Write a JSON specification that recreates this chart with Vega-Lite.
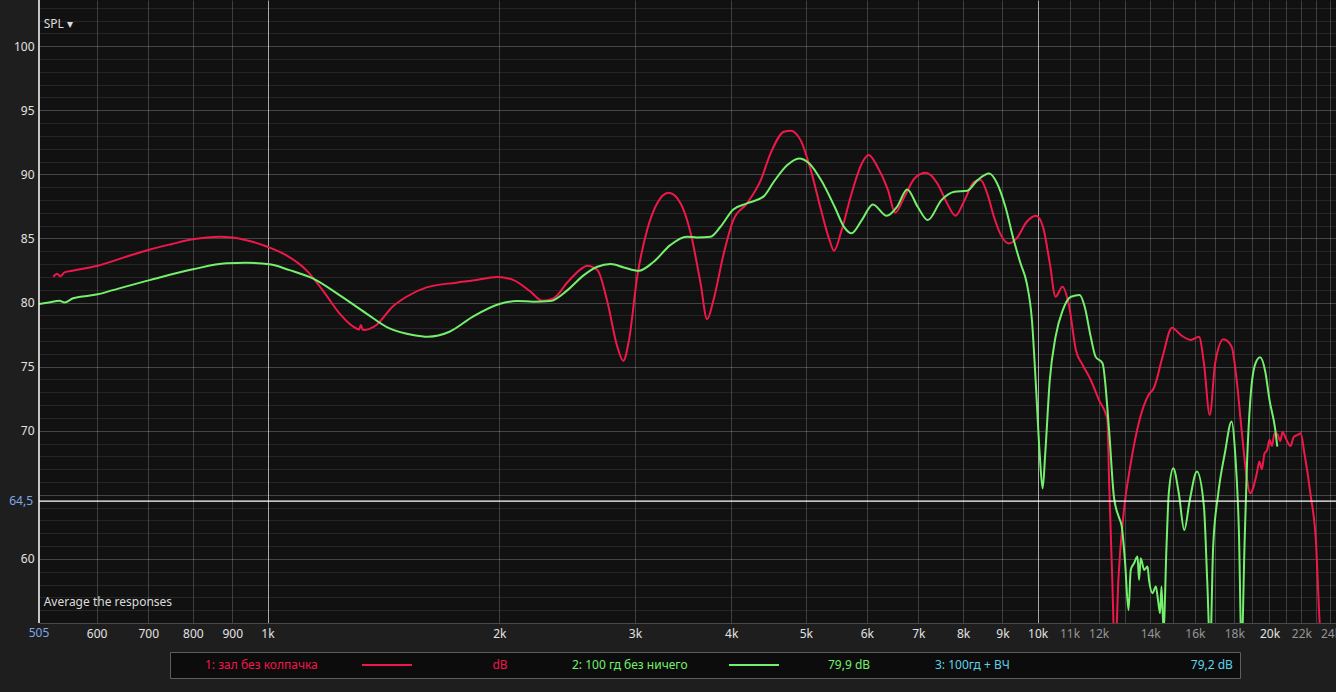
{
  "$schema": "https://vega.github.io/schema/vega-lite/v6.json",
  "width": 1297,
  "height": 623,
  "autosize": {"type": "none"},
  "padding": {"left": 39, "top": 0, "right": 0, "bottom": 69},
  "background": "#1e1e1e",
  "config": {"view": {"fill": "#111111", "stroke": null}, "font": "Noto Sans"},
  "resolve": {"axis": {"x": "independent", "y": "independent"}},
  "datasets": {
    "curves": [
      {"s": "1: зал без колпачка", "f": 527, "db": 82.0},
      {"s": "1: зал без колпачка", "f": 533, "db": 82.25},
      {"s": "1: зал без колпачка", "f": 538, "db": 82.05},
      {"s": "1: зал без колпачка", "f": 545, "db": 82.35},
      {"s": "1: зал без колпачка", "f": 560, "db": 82.5},
      {"s": "1: зал без колпачка", "f": 600, "db": 82.85},
      {"s": "1: зал без колпачка", "f": 650, "db": 83.5},
      {"s": "1: зал без колпачка", "f": 700, "db": 84.1},
      {"s": "1: зал без колпачка", "f": 750, "db": 84.55},
      {"s": "1: зал без колпачка", "f": 800, "db": 84.93},
      {"s": "1: зал без колпачка", "f": 866, "db": 85.13},
      {"s": "1: зал без колпачка", "f": 900, "db": 85.08},
      {"s": "1: зал без колпачка", "f": 956, "db": 84.74},
      {"s": "1: зал без колпачка", "f": 1000, "db": 84.35},
      {"s": "1: зал без колпачка", "f": 1057, "db": 83.7},
      {"s": "1: зал без колпачка", "f": 1123, "db": 82.53},
      {"s": "1: зал без колпачка", "f": 1179, "db": 80.97},
      {"s": "1: зал без колпачка", "f": 1240, "db": 79.16},
      {"s": "1: зал без колпачка", "f": 1289, "db": 78.17},
      {"s": "1: зал без колпачка", "f": 1315, "db": 77.9},
      {"s": "1: зал без колпачка", "f": 1322, "db": 78.25},
      {"s": "1: зал без колпачка", "f": 1330, "db": 77.85},
      {"s": "1: зал без колпачка", "f": 1385, "db": 78.25},
      {"s": "1: зал без колпачка", "f": 1453, "db": 79.67},
      {"s": "1: зал без колпачка", "f": 1515, "db": 80.45},
      {"s": "1: зал без колпачка", "f": 1609, "db": 81.18},
      {"s": "1: зал без колпачка", "f": 1759, "db": 81.55},
      {"s": "1: зал без колпачка", "f": 1847, "db": 81.71},
      {"s": "1: зал без колпачка", "f": 1988, "db": 82.0},
      {"s": "1: зал без колпачка", "f": 2087, "db": 81.75},
      {"s": "1: зал без колпачка", "f": 2196, "db": 80.84},
      {"s": "1: зал без колпачка", "f": 2274, "db": 80.14},
      {"s": "1: зал без колпачка", "f": 2352, "db": 80.33},
      {"s": "1: зал без колпачка", "f": 2452, "db": 81.58},
      {"s": "1: зал без колпачка", "f": 2550, "db": 82.59},
      {"s": "1: зал без колпачка", "f": 2601, "db": 82.87},
      {"s": "1: зал без колпачка", "f": 2681, "db": 82.53},
      {"s": "1: зал без колпачка", "f": 2759, "db": 80.2},
      {"s": "1: зал без колпачка", "f": 2846, "db": 76.55},
      {"s": "1: зал без колпачка", "f": 2897, "db": 75.46},
      {"s": "1: зал без колпачка", "f": 2947, "db": 77.07},
      {"s": "1: зал без колпачка", "f": 3020, "db": 82.0},
      {"s": "1: зал без колпачка", "f": 3111, "db": 85.65},
      {"s": "1: зал без колпачка", "f": 3205, "db": 87.73},
      {"s": "1: зал без колпачка", "f": 3318, "db": 88.56},
      {"s": "1: зал без колпачка", "f": 3439, "db": 87.73},
      {"s": "1: зал без колпачка", "f": 3544, "db": 85.4},
      {"s": "1: зал без колпачка", "f": 3650, "db": 81.5},
      {"s": "1: зал без колпачка", "f": 3722, "db": 78.71},
      {"s": "1: зал без колпачка", "f": 3794, "db": 80.2},
      {"s": "1: зал без колпачка", "f": 3912, "db": 83.83},
      {"s": "1: зал без колпачка", "f": 4025, "db": 86.43},
      {"s": "1: зал без колпачка", "f": 4193, "db": 87.73},
      {"s": "1: зал без колпачка", "f": 4370, "db": 89.55},
      {"s": "1: зал без колпачка", "f": 4500, "db": 91.63},
      {"s": "1: зал без колпачка", "f": 4683, "db": 93.32},
      {"s": "1: зал без колпачка", "f": 4777, "db": 93.4},
      {"s": "1: зал без колпачка", "f": 4922, "db": 92.67},
      {"s": "1: зал без колпачка", "f": 5075, "db": 90.33},
      {"s": "1: зал без колпачка", "f": 5233, "db": 87.21},
      {"s": "1: зал без колпачка", "f": 5367, "db": 84.87},
      {"s": "1: зал без колпачка", "f": 5440, "db": 84.04},
      {"s": "1: зал без колпачка", "f": 5565, "db": 85.65},
      {"s": "1: зал без колпачка", "f": 5733, "db": 88.51},
      {"s": "1: зал без колпачка", "f": 5911, "db": 90.85},
      {"s": "1: зал без колпачка", "f": 6035, "db": 91.5},
      {"s": "1: зал без колпачка", "f": 6193, "db": 90.59},
      {"s": "1: зал без колпачка", "f": 6393, "db": 88.77},
      {"s": "1: зал без колпачка", "f": 6530, "db": 87.0},
      {"s": "1: зал без колпачка", "f": 6714, "db": 88.25},
      {"s": "1: зал без колпачка", "f": 6920, "db": 89.68},
      {"s": "1: зал без колпачка", "f": 7158, "db": 90.12},
      {"s": "1: зал без колпачка", "f": 7410, "db": 89.29},
      {"s": "1: зал без колпачка", "f": 7630, "db": 87.73},
      {"s": "1: зал без колпачка", "f": 7820, "db": 86.77},
      {"s": "1: зал без колпачка", "f": 8020, "db": 87.86},
      {"s": "1: зал без колпачка", "f": 8270, "db": 89.42},
      {"s": "1: зал без колпачка", "f": 8433, "db": 89.55},
      {"s": "1: зал без колпачка", "f": 8600, "db": 88.51},
      {"s": "1: зал без колпачка", "f": 8775, "db": 86.69},
      {"s": "1: зал без колпачка", "f": 8960, "db": 85.26},
      {"s": "1: зал без колпачка", "f": 9170, "db": 84.61},
      {"s": "1: зал без колпачка", "f": 9390, "db": 85.0},
      {"s": "1: зал без колпачка", "f": 9680, "db": 86.3},
      {"s": "1: зал без колпачка", "f": 9950, "db": 86.77},
      {"s": "1: зал без колпачка", "f": 10160, "db": 85.91},
      {"s": "1: зал без колпачка", "f": 10370, "db": 83.06},
      {"s": "1: зал без колпачка", "f": 10550, "db": 80.45},
      {"s": "1: зал без колпачка", "f": 10770, "db": 81.23},
      {"s": "1: зал без колпачка", "f": 10990, "db": 79.67},
      {"s": "1: зал без колпачка", "f": 11210, "db": 76.3},
      {"s": "1: зал без колпачка", "f": 11440, "db": 75.13},
      {"s": "1: зал без колпачка", "f": 11720, "db": 73.96},
      {"s": "1: зал без колпачка", "f": 12010, "db": 72.4},
      {"s": "1: зал без колпачка", "f": 12320, "db": 70.84},
      {"s": "1: зал без колпачка", "f": 12380, "db": 66.16},
      {"s": "1: зал без колпачка", "f": 12500, "db": 58.4},
      {"s": "1: зал без колпачка", "f": 12600, "db": 52.0},
      {"s": "1: зал без колпачка", "f": 12730, "db": 58.4},
      {"s": "1: зал без колпачка", "f": 12930, "db": 63.56},
      {"s": "1: зал без колпачка", "f": 13210, "db": 67.46},
      {"s": "1: зал без колпачка", "f": 13560, "db": 70.84},
      {"s": "1: зал без колпачка", "f": 13930, "db": 72.79},
      {"s": "1: зал без колпачка", "f": 14150, "db": 73.31},
      {"s": "1: зал без колпачка", "f": 14530, "db": 75.78},
      {"s": "1: зал без колпачка", "f": 14940, "db": 78.04},
      {"s": "1: зал без колпачка", "f": 15340, "db": 77.47},
      {"s": "1: зал без колпачка", "f": 15810, "db": 77.08},
      {"s": "1: зал без колпачка", "f": 16200, "db": 77.33},
      {"s": "1: зал без колпачка", "f": 16440, "db": 75.26},
      {"s": "1: зал без колпачка", "f": 16730, "db": 71.23},
      {"s": "1: зал без колпачка", "f": 17000, "db": 75.26},
      {"s": "1: зал без колпачка", "f": 17430, "db": 77.13},
      {"s": "1: зал без колпачка", "f": 17860, "db": 76.55},
      {"s": "1: зал без колпачка", "f": 18130, "db": 73.96},
      {"s": "1: зал без колпачка", "f": 18400, "db": 70.06},
      {"s": "1: зал без колпачка", "f": 18680, "db": 66.42},
      {"s": "1: зал без колпачка", "f": 18870, "db": 65.12},
      {"s": "1: зал без колпачка", "f": 19260, "db": 66.68},
      {"s": "1: зал без колпачка", "f": 19400, "db": 67.6},
      {"s": "1: зал без колпачка", "f": 19550, "db": 67.0},
      {"s": "1: зал без колпачка", "f": 19700, "db": 68.2},
      {"s": "1: зал без колпачка", "f": 19860, "db": 68.5},
      {"s": "1: зал без колпачка", "f": 20000, "db": 69.3},
      {"s": "1: зал без колпачка", "f": 20150, "db": 68.8},
      {"s": "1: зал без колпачка", "f": 20300, "db": 69.8},
      {"s": "1: зал без колпачка", "f": 20470, "db": 69.75},
      {"s": "1: зал без колпачка", "f": 20650, "db": 69.2},
      {"s": "1: зал без колпачка", "f": 20800, "db": 69.9},
      {"s": "1: зал без колпачка", "f": 21000, "db": 69.4},
      {"s": "1: зал без колпачка", "f": 21300, "db": 68.8},
      {"s": "1: зал без колпачка", "f": 21500, "db": 69.5},
      {"s": "1: зал без колпачка", "f": 21750, "db": 69.67},
      {"s": "1: зал без колпачка", "f": 21950, "db": 69.8},
      {"s": "1: зал без колпачка", "f": 22200, "db": 68.24},
      {"s": "1: зал без колпачка", "f": 22600, "db": 65.12},
      {"s": "1: зал без колпачка", "f": 23000, "db": 60.96},
      {"s": "1: зал без колпачка", "f": 23200, "db": 55.76},
      {"s": "1: зал без колпачка", "f": 23400, "db": 52.0},

      {"s": "2: 100 гд без ничего", "f": 505, "db": 79.88},
      {"s": "2: 100 гд без ничего", "f": 520, "db": 80.0},
      {"s": "2: 100 гд без ничего", "f": 537, "db": 80.14},
      {"s": "2: 100 гд без ничего", "f": 545, "db": 80.0},
      {"s": "2: 100 гд без ничего", "f": 559, "db": 80.33},
      {"s": "2: 100 гд без ничего", "f": 602, "db": 80.64},
      {"s": "2: 100 гд без ничего", "f": 630, "db": 80.97},
      {"s": "2: 100 гд без ничего", "f": 703, "db": 81.75},
      {"s": "2: 100 гд без ничего", "f": 800, "db": 82.59},
      {"s": "2: 100 гд без ничего", "f": 884, "db": 83.06},
      {"s": "2: 100 гд без ничего", "f": 938, "db": 83.1},
      {"s": "2: 100 гд без ничего", "f": 1006, "db": 82.98},
      {"s": "2: 100 гд без ничего", "f": 1068, "db": 82.53},
      {"s": "2: 100 гд без ничего", "f": 1145, "db": 81.88},
      {"s": "2: 100 гд без ничего", "f": 1240, "db": 80.58},
      {"s": "2: 100 гд без ничего", "f": 1343, "db": 79.16},
      {"s": "2: 100 гд без ничего", "f": 1440, "db": 77.98},
      {"s": "2: 100 гд без ничего", "f": 1544, "db": 77.47},
      {"s": "2: 100 гд без ничего", "f": 1615, "db": 77.33},
      {"s": "2: 100 гд без ничего", "f": 1723, "db": 77.72},
      {"s": "2: 100 гд без ничего", "f": 1848, "db": 78.9},
      {"s": "2: 100 гд без ничего", "f": 2000, "db": 79.88},
      {"s": "2: 100 гд без ничего", "f": 2110, "db": 80.12},
      {"s": "2: 100 гд без ничего", "f": 2215, "db": 80.07},
      {"s": "2: 100 гд без ничего", "f": 2330, "db": 80.12},
      {"s": "2: 100 гд без ничего", "f": 2452, "db": 80.97},
      {"s": "2: 100 гд без ничего", "f": 2575, "db": 82.14},
      {"s": "2: 100 гд без ничего", "f": 2681, "db": 82.79},
      {"s": "2: 100 гд без ничего", "f": 2790, "db": 83.0},
      {"s": "2: 100 гд без ничего", "f": 2902, "db": 82.74},
      {"s": "2: 100 гд без ничего", "f": 3034, "db": 82.48},
      {"s": "2: 100 гд без ничего", "f": 3173, "db": 83.18},
      {"s": "2: 100 гд без ничего", "f": 3334, "db": 84.48},
      {"s": "2: 100 гд без ничего", "f": 3502, "db": 85.13},
      {"s": "2: 100 гд без ничего", "f": 3611, "db": 85.08},
      {"s": "2: 100 гд без ничего", "f": 3760, "db": 85.13},
      {"s": "2: 100 гд без ничего", "f": 3874, "db": 85.91},
      {"s": "2: 100 гд без ничего", "f": 4025, "db": 87.26},
      {"s": "2: 100 гд без ничего", "f": 4193, "db": 87.73},
      {"s": "2: 100 гд без ничего", "f": 4412, "db": 88.3},
      {"s": "2: 100 гд без ничего", "f": 4544, "db": 89.42},
      {"s": "2: 100 гд без ничего", "f": 4731, "db": 90.72},
      {"s": "2: 100 гд без ничего", "f": 4899, "db": 91.24},
      {"s": "2: 100 гд без ничего", "f": 5053, "db": 90.85},
      {"s": "2: 100 гд без ничего", "f": 5233, "db": 89.55},
      {"s": "2: 100 гд без ничего", "f": 5450, "db": 87.47},
      {"s": "2: 100 гд без ничего", "f": 5610, "db": 85.86},
      {"s": "2: 100 гд без ничего", "f": 5733, "db": 85.4},
      {"s": "2: 100 гд без ничего", "f": 5911, "db": 86.43},
      {"s": "2: 100 гд без ничего", "f": 6110, "db": 87.65},
      {"s": "2: 100 гд без ничего", "f": 6367, "db": 86.77},
      {"s": "2: 100 гд без ничего", "f": 6567, "db": 87.47},
      {"s": "2: 100 гд без ничего", "f": 6770, "db": 88.82},
      {"s": "2: 100 гд без ничего", "f": 6986, "db": 87.47},
      {"s": "2: 100 гд без ничего", "f": 7200, "db": 86.43},
      {"s": "2: 100 гд без ничего", "f": 7500, "db": 87.99},
      {"s": "2: 100 гд без ничего", "f": 7800, "db": 88.64},
      {"s": "2: 100 гд без ничего", "f": 8100, "db": 88.72},
      {"s": "2: 100 гд без ничего", "f": 8355, "db": 89.55},
      {"s": "2: 100 гд без ничего", "f": 8650, "db": 90.07},
      {"s": "2: 100 гд без ничего", "f": 8860, "db": 89.29},
      {"s": "2: 100 гд без ничего", "f": 9080, "db": 87.47},
      {"s": "2: 100 гд без ничего", "f": 9310, "db": 84.87},
      {"s": "2: 100 гд без ничего", "f": 9500, "db": 83.06},
      {"s": "2: 100 гд без ничего", "f": 9680, "db": 81.5},
      {"s": "2: 100 гд без ничего", "f": 9830, "db": 78.64},
      {"s": "2: 100 гд без ничего", "f": 9950, "db": 73.44},
      {"s": "2: 100 гд без ничего", "f": 10060, "db": 68.24},
      {"s": "2: 100 гд без ничего", "f": 10150, "db": 65.5},
      {"s": "2: 100 гд без ничего", "f": 10230, "db": 68.24},
      {"s": "2: 100 гд без ничего", "f": 10370, "db": 73.96},
      {"s": "2: 100 гд без ничего", "f": 10550, "db": 77.33},
      {"s": "2: 100 гд без ничего", "f": 10780, "db": 79.41},
      {"s": "2: 100 гд без ничего", "f": 11050, "db": 80.45},
      {"s": "2: 100 гд без ничего", "f": 11340, "db": 80.58},
      {"s": "2: 100 гд без ничего", "f": 11510, "db": 79.67},
      {"s": "2: 100 гд без ничего", "f": 11720, "db": 77.33},
      {"s": "2: 100 гд без ничего", "f": 11890, "db": 75.78},
      {"s": "2: 100 гд без ничего", "f": 12140, "db": 75.26},
      {"s": "2: 100 гд без ничего", "f": 12380, "db": 70.06},
      {"s": "2: 100 гд без ничего", "f": 12560, "db": 64.86},
      {"s": "2: 100 гд без ничего", "f": 12740, "db": 63.3},
      {"s": "2: 100 гд без ничего", "f": 12860, "db": 62.52},
      {"s": "2: 100 гд без ничего", "f": 12990, "db": 59.66},
      {"s": "2: 100 гд без ничего", "f": 13120, "db": 56.0},
      {"s": "2: 100 гд без ничего", "f": 13210, "db": 59.14},
      {"s": "2: 100 гд без ничего", "f": 13340, "db": 59.66},
      {"s": "2: 100 гд без ничего", "f": 13480, "db": 60.18},
      {"s": "2: 100 гд без ничего", "f": 13540, "db": 58.36},
      {"s": "2: 100 гд без ничего", "f": 13610, "db": 60.05},
      {"s": "2: 100 гд без ничего", "f": 13750, "db": 59.14},
      {"s": "2: 100 гд без ничего", "f": 13890, "db": 59.4},
      {"s": "2: 100 гд без ничего", "f": 13950, "db": 58.36},
      {"s": "2: 100 гд без ничего", "f": 14100, "db": 57.33},
      {"s": "2: 100 гд без ничего", "f": 14240, "db": 57.85},
      {"s": "2: 100 гд без ничего", "f": 14330, "db": 56.8},
      {"s": "2: 100 гд без ничего", "f": 14420, "db": 55.77},
      {"s": "2: 100 гд без ничего", "f": 14480, "db": 57.85},
      {"s": "2: 100 гд без ничего", "f": 14570, "db": 54.5},
      {"s": "2: 100 гд без ничего", "f": 14700, "db": 61.0},
      {"s": "2: 100 гд без ничего", "f": 14800, "db": 65.12},
      {"s": "2: 100 гд без ничего", "f": 15000, "db": 67.07},
      {"s": "2: 100 гд без ничего", "f": 15250, "db": 65.12},
      {"s": "2: 100 гд без ничего", "f": 15500, "db": 62.26},
      {"s": "2: 100 гд без ничего", "f": 15760, "db": 64.6},
      {"s": "2: 100 гд без ничего", "f": 16100, "db": 66.81},
      {"s": "2: 100 гд без ничего", "f": 16440, "db": 64.08},
      {"s": "2: 100 гд без ничего", "f": 16600, "db": 58.4},
      {"s": "2: 100 гд без ничего", "f": 16750, "db": 53.0},
      {"s": "2: 100 гд без ничего", "f": 16900, "db": 60.96},
      {"s": "2: 100 гд без ничего", "f": 17160, "db": 65.12},
      {"s": "2: 100 гд без ничего", "f": 17500, "db": 68.24},
      {"s": "2: 100 гд без ничего", "f": 17860, "db": 70.71},
      {"s": "2: 100 гд без ничего", "f": 18050, "db": 68.24},
      {"s": "2: 100 гд без ничего", "f": 18250, "db": 62.26},
      {"s": "2: 100 гд без ничего", "f": 18400, "db": 53.0},
      {"s": "2: 100 гд без ничего", "f": 18560, "db": 60.96},
      {"s": "2: 100 гд без ничего", "f": 18700, "db": 67.46},
      {"s": "2: 100 гд без ничего", "f": 18900, "db": 72.66},
      {"s": "2: 100 гд без ничего", "f": 19180, "db": 75.26},
      {"s": "2: 100 гд без ничего", "f": 19450, "db": 75.73},
      {"s": "2: 100 гд без ничего", "f": 19750, "db": 74.6},
      {"s": "2: 100 гд без ничего", "f": 20000, "db": 72.4},
      {"s": "2: 100 гд без ничего", "f": 20350, "db": 70.06},
      {"s": "2: 100 гд без ничего", "f": 20470, "db": 68.76}
    ],
    "cursor": [{"f": 505, "db": 64.5, "ylab": "64,5", "xlab": "505", "bottom": 55}],
    "notes": [
      {"f": 509, "db": 101.7, "t": "SPL  ▾"},
      {"f": 509, "db": 56.6, "t": "Average the responses"}
    ]
  },
  "layer": [
    {
      "data": {"name": "curves"},
      "mark": {"type": "line", "strokeWidth": 2, "interpolate": "monotone", "clip": true},
      "encoding": {
        "x": {
          "field": "f", "type": "quantitative",
          "scale": {"type": "log", "domain": [505, 24400], "nice": false},
          "axis": null
        },
        "y": {
          "field": "db", "type": "quantitative",
          "scale": {"domain": [55, 103.6], "nice": false, "zero": false},
          "axis": {
            "title": null,
            "orient": "left",
            "values": [56, 57, 58, 59, 60, 61, 62, 63, 64, 65, 66, 67, 68, 69, 70, 71, 72, 73, 74, 75, 76, 77, 78, 79, 80, 81, 82, 83, 84, 85, 86, 87, 88, 89, 90, 91, 92, 93, 94, 95, 96, 97, 98, 99, 100, 101, 102, 103],
            "labels": false,
            "ticks": false,
            "domain": false,
            "grid": true,
            "gridColor": {"condition": {"test": "datum.value % 5 === 0", "value": "rgba(255,255,255,0.22)"}, "value": "rgba(255,255,255,0.085)"},
            "gridWidth": 1
          }
        },
        "color": {
          "field": "s", "type": "nominal",
          "scale": {
            "domain": ["1: зал без колпачка", "2: 100 гд без ничего", "3: 100гд + ВЧ"],
            "range": ["#f0174a", "#74f06c", "#5fd3ea"]
          },
          "legend": {
            "orient": "none",
            "legendX": 131,
            "legendY": 652,
            "direction": "horizontal",
            "columns": 3,
            "title": null,
            "symbolType": "M-12.5,0H12.5",
            "symbolStrokeWidth": 2,
            "symbolSize": 16,
            "labelFontSize": 12,
            "labelOffset": 16,
            "labelLimit": 400,
            "columnPadding": 36,
            "padding": 7,
            "fillColor": "#0c0c0c",
            "strokeColor": "#5e5e5e",
            "labelExpr": "datum.value == '1: зал без колпачка' ? datum.value + pad('', 56, '\u00a0') + 'dB' : (datum.value == '2: 100 гд без ничего' ? datum.value + pad('', 45, '\u00a0') + '79,9 dB' : datum.value + pad('', 58, '\u00a0') + '79,2 dB')",
            "encode": {
              "labels": {"update": {"fill": {"scale": "color", "field": "value"}}},
              "symbols": {"update": {
                "x": {"value": 210},
                "opacity": {"signal": "datum.value === '3: 100гд + ВЧ' ? 0 : 1"}
              }}
            }
          }
        }
      }
    },
    {
      "data": {"name": "cursor"},
      "mark": {"type": "rule", "color": "#ffffff", "strokeWidth": 1.2},
      "encoding": {
        "y": {"field": "db", "type": "quantitative", "axis": null}
      }
    },
    {
      "data": {"name": "cursor"},
      "mark": {"type": "rule", "color": "#ffffff", "strokeWidth": 1.5},
      "encoding": {
        "x": {"field": "f", "type": "quantitative", "axis": null}
      }
    },
    {
      "data": {"name": "cursor"},
      "mark": {"type": "text", "align": "right", "baseline": "middle", "dx": -6, "color": "#7fa7e8", "fontSize": 12},
      "encoding": {
        "x": {
          "field": "f", "type": "quantitative",
          "axis": {
            "title": null,
            "values": [600, 700, 800, 900, 1000, 2000, 3000, 4000, 5000, 6000, 7000, 8000, 9000, 10000, 11000, 12000, 13000, 14000, 15000, 16000, 17000, 18000, 19000, 20000, 21000, 22000, 23000, 24000],
            "labelExpr": "indexof([13000,15000,17000,19000,21000,23000], datum.value) >= 0 ? '' : (datum.value >= 1000 ? (datum.value / 1000) + 'k' : datum.value + '')",
            "labelOverlap": false,
            "labelFlush": false,
            "labelFontSize": 12,
            "labelPadding": 5,
            "labelColor": {"condition": {"test": "datum.value >= 11000 && datum.value != 20000", "value": "#959595"}, "value": "#e2e2e2"},
            "ticks": false,
            "domainColor": "#4a4a4a",
            "grid": true,
            "gridColor": {"condition": {"test": "datum.value == 1000 || datum.value == 10000", "value": "#a8a8a8"}, "value": "#3e3e3e"},
            "gridWidth": 1
          }
        },
        "y": {
          "field": "db", "type": "quantitative",
          "axis": {
            "title": null,
            "orient": "left",
            "values": [60, 70, 75, 80, 85, 90, 95, 100],
            "labelOverlap": false,
            "labelFontSize": 12,
            "labelPadding": 5,
            "labelColor": "#e2e2e2",
            "ticks": false,
            "domain": false,
            "grid": false
          }
        },
        "text": {"field": "ylab"}
      }
    },
    {
      "data": {"name": "cursor"},
      "mark": {"type": "text", "align": "center", "baseline": "top", "dy": 5, "color": "#7fa7e8", "fontSize": 12},
      "encoding": {
        "x": {"field": "f", "type": "quantitative", "axis": null},
        "y": {"field": "bottom", "type": "quantitative", "axis": null},
        "text": {"field": "xlab"}
      }
    },
    {
      "data": {"name": "notes"},
      "mark": {"type": "text", "align": "left", "baseline": "middle", "dx": 2, "color": "#dcdcdc", "fontSize": 12},
      "encoding": {
        "x": {"field": "f", "type": "quantitative", "axis": null},
        "y": {"field": "db", "type": "quantitative", "axis": null},
        "text": {"field": "t"}
      }
    }
  ]
}
